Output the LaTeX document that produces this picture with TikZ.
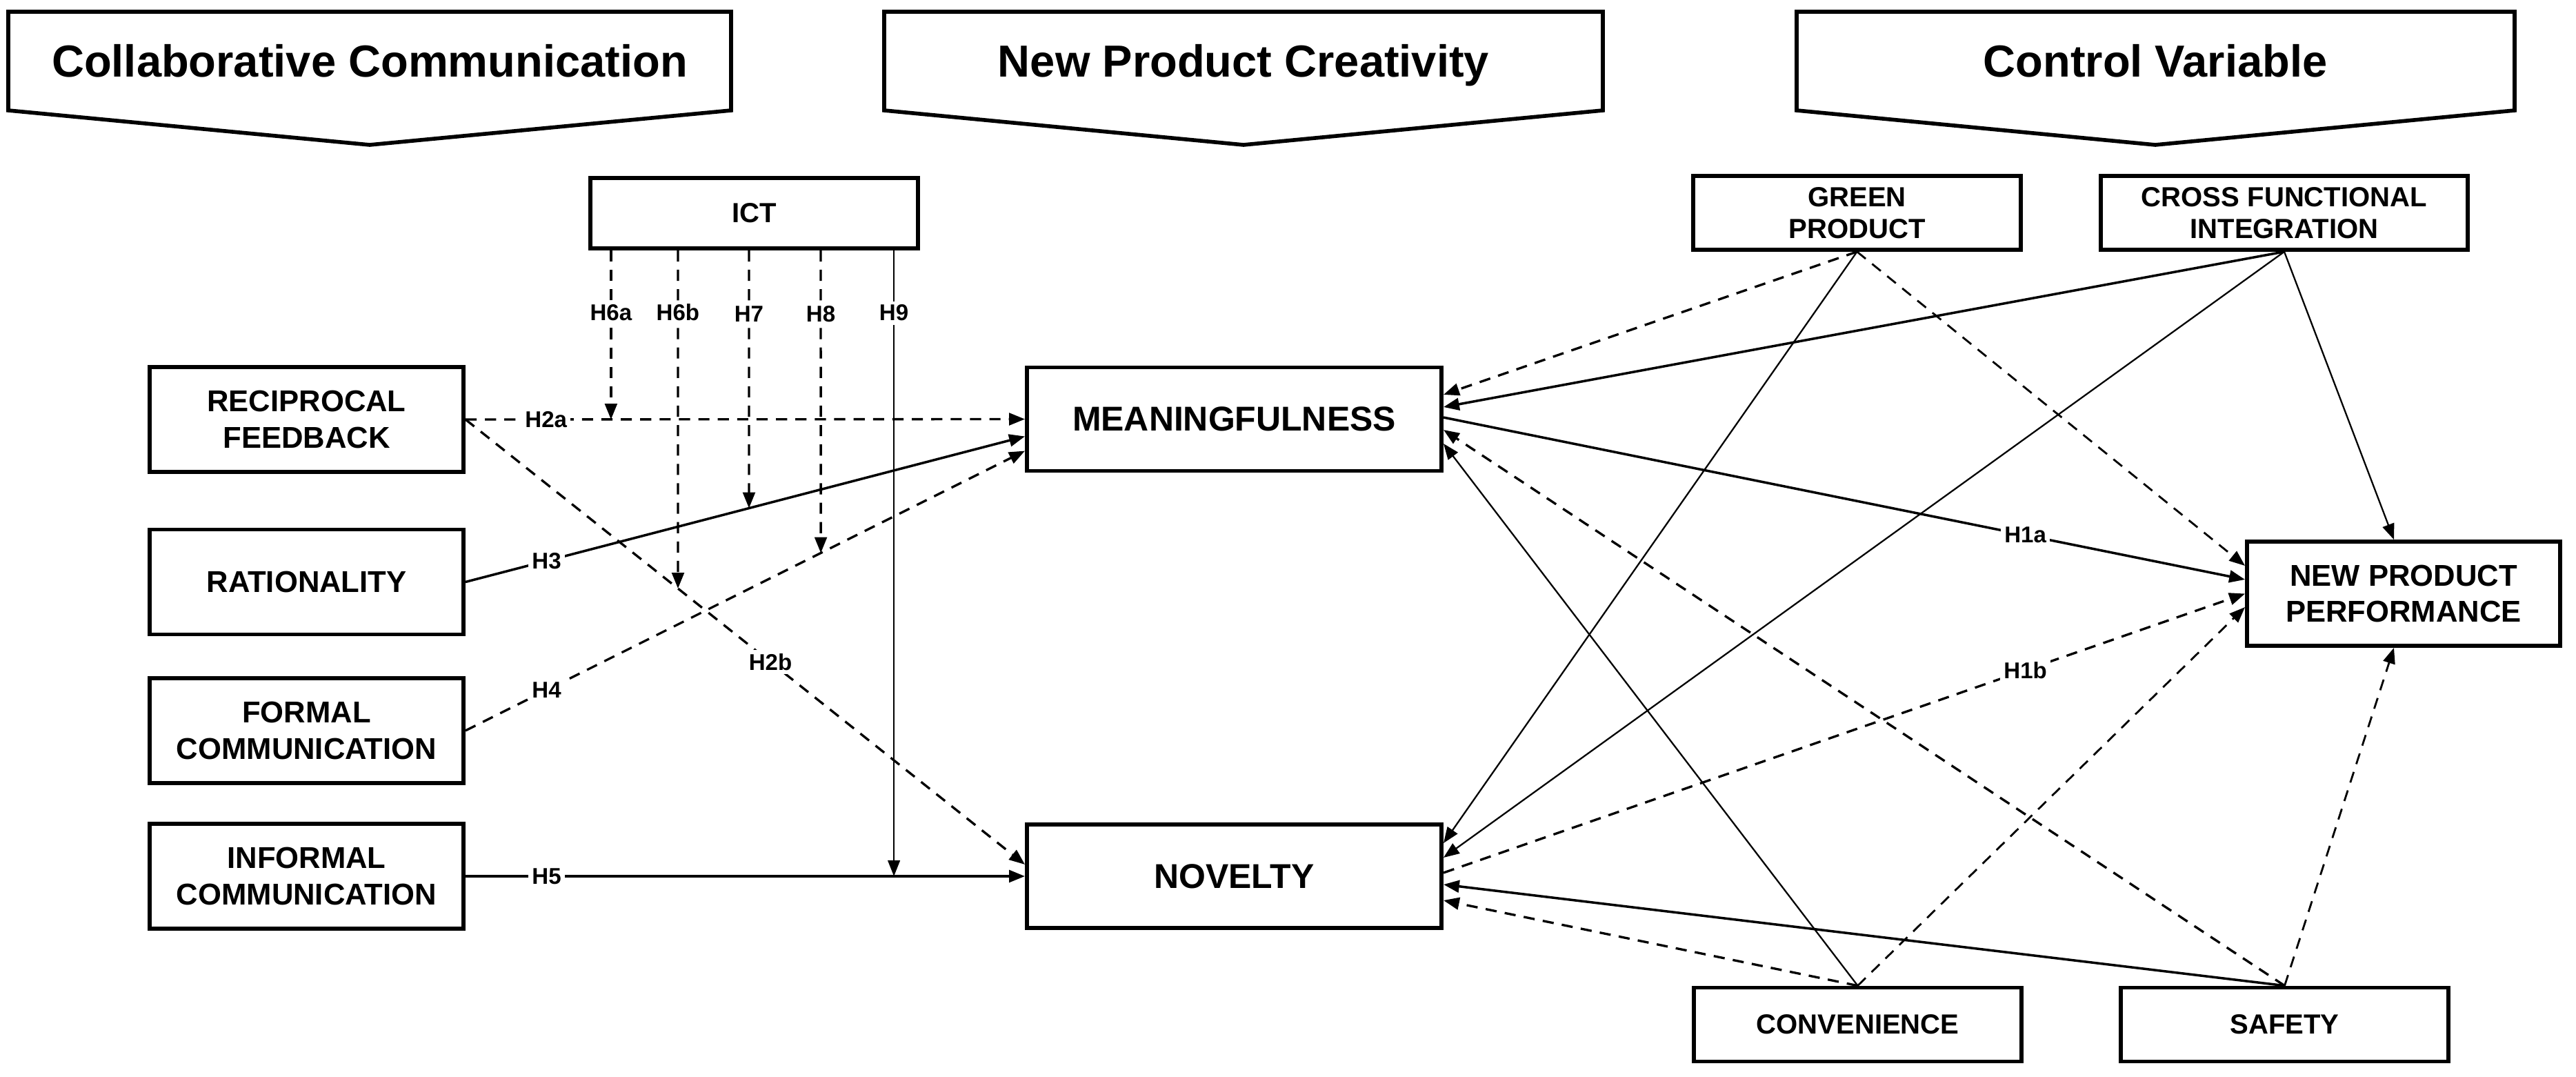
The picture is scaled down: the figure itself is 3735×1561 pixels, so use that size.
\documentclass[tikz,border=0pt]{standalone}
\usepackage{fontspec}
\setmainfont{Liberation Sans}
\usetikzlibrary{arrows.meta,calc}
\begin{document}
\begin{tikzpicture}[x=0.01cm,y=-0.01cm,
  boxbase/.style={draw,line width=1.6pt,fill=white,align=center,inner sep=0pt},
  lbox/.style={boxbase,minimum width=4.55cm,minimum height=1.52cm,font=\bfseries\fontsize{12.4}{14.8}\selectfont},
  cbox/.style={boxbase,minimum width=6.01cm,minimum height=1.50cm,font=\bfseries\fontsize{14.2}{17}\selectfont},
  sbox/.style={boxbase,minimum height=1.07cm,font=\bfseries\fontsize{11.4}{13.1}\selectfont},
  chev/.style={draw,line width=1.6pt,fill=white,line join=miter},
  head/.style={font=\bfseries\fontsize{18.5}{22}\selectfont,anchor=base,inner sep=0pt},
  arr/.style={-{Triangle[length=6.5pt,width=5pt]},line width=1pt},
  dsh/.style={dash pattern=on 4.6pt off 3.4pt,line width=0.95pt},
  thinl/.style={line width=0.65pt},
  lab/.style={fill=white,inner sep=1.5pt,font=\bfseries\fontsize{9.4}{11}\selectfont}
]
\useasboundingbox (0,0) rectangle (3735,1561);

% headers
\draw[chev] (12,17) -- (1060,17) -- (1060,160) -- (536,210) -- (12,160) -- cycle;
\node[head] (t1) at (536,112) {Collaborative Communication};
\draw[chev] (1282,17) -- (2324,17) -- (2324,160) -- (1803,210) -- (1282,160) -- cycle;
\node[head] (t2) at (1803,112) {New Product Creativity};
\draw[chev] (2605,17) -- (3646,17) -- (3646,160) -- (3125,210) -- (2605,160) -- cycle;
\node[head] (t3) at (3125,112) {Control Variable};

% boxes
\node[lbox] (rf) at (444.5,608) {RECIPROCAL\\FEEDBACK};
\node[lbox] (rat) at (444.5,843.5) {RATIONALITY};
\node[lbox] (formal) at (444.5,1059) {FORMAL\\COMMUNICATION};
\node[lbox] (informal) at (444.5,1270) {INFORMAL\\COMMUNICATION};
\node[sbox,minimum width=4.75cm,minimum height=1.02cm] (ict) at (1093.5,309) {ICT};
\node[cbox] (mean) at (1789.5,607.5) {MEANINGFULNESS};
\node[cbox] (nov) at (1789.5,1270) {NOVELTY};
\node[sbox,minimum width=4.75cm] (gp) at (2692.5,308.5) {GREEN\\PRODUCT};
\node[sbox,minimum width=5.32cm] (cfi) at (3312,308.5) {CROSS FUNCTIONAL\\INTEGRATION};
\node[lbox,minimum width=4.54cm,minimum height=1.51cm] (npp) at (3485,860.5) {NEW PRODUCT\\PERFORMANCE};
\node[sbox,minimum width=4.75cm] (conv) at (2693.5,1485) {CONVENIENCE};
\node[sbox,minimum width=4.75cm] (safety) at (3312.5,1485) {SAFETY};

% helper coordinates
\coordinate (h2bend) at ([yshift=0.17cm]nov.west);
\coordinate (h3end) at ([yshift=-0.25cm]mean.west);
\coordinate (h4end) at ([yshift=-0.46cm]mean.west);
\coordinate (i6a) at ([xshift=-2.075cm]ict.south);
\coordinate (i6b) at ([xshift=-1.105cm]ict.south);
\coordinate (i7) at ([xshift=-0.075cm]ict.south);
\coordinate (i8) at ([xshift=0.965cm]ict.south);
\coordinate (i9) at ([xshift=2.025cm]ict.south);
\coordinate (i6bb) at (i6b |- nov.south);
\coordinate (i7b) at (i7 |- nov.south);
\coordinate (i8b) at (i8 |- nov.south);

\coordinate (m1) at ([yshift=0.355cm]mean.east);
\coordinate (m2) at ([yshift=0.175cm]mean.east);
\coordinate (m3) at ([yshift=0.025cm]mean.east);
\coordinate (m4) at ([yshift=-0.155cm]mean.east);
\coordinate (m5) at ([yshift=-0.355cm]mean.east);
\coordinate (n1) at ([yshift=0.48cm]nov.east);
\coordinate (n2) at ([yshift=0.27cm]nov.east);
\coordinate (n3) at ([yshift=0.05cm]nov.east);
\coordinate (n4) at ([yshift=-0.12cm]nov.east);
\coordinate (n5) at ([yshift=-0.35cm]nov.east);
\coordinate (p1) at ([yshift=0.405cm]npp.west);
\coordinate (p2) at ([yshift=0.205cm]npp.west);
\coordinate (p3) at (npp.west);
\coordinate (p4) at ([yshift=-0.195cm]npp.west);
\coordinate (ptop) at ([xshift=-0.14cm]npp.north);
\coordinate (pbot) at ([xshift=-0.14cm]npp.south);

% left connectors
\draw[arr,dsh] (rf.east) -- node[lab,pos=0.144]{H2a} (mean.west);
\draw[arr,dsh] (rf.east) -- node[lab,pos=0.545]{H2b} (h2bend);
\draw[arr] (rat.east) -- node[lab,pos=0.145]{H3} (h3end);
\draw[arr,dsh] (formal.east) -- node[lab,pos=0.145]{H4} (h4end);
\draw[arr] (informal.east) -- node[lab,pos=0.145]{H5} (nov.west);

% ICT moderations
\draw[arr,dsh] (i6a) -- node[lab,pos=0.368]{H6a} (i6a |- rf.east);
\draw[arr,dsh] (i6b) -- node[lab,pos=0.184]{H6b} (intersection of i6b--i6bb and rf.east--h2bend);
\draw[arr,dsh] (i7) -- node[lab,pos=0.247]{H7} (intersection of i7--i7b and rat.east--h3end);
\draw[arr,dsh] (i8) -- node[lab,pos=0.21]{H8} (intersection of i8--i8b and formal.east--h4end);
\draw[arr,thinl] (i9) -- node[lab,pos=0.1]{H9} (i9 |- informal.east);

% right connectors
\draw[arr,dsh] (gp.south) -- (m1);
\draw[arr] (cfi.south) -- (m2);
\draw[arr] (m3) -- node[lab,pos=0.726]{H1a} (p2);
\draw[arr,dsh] (safety.north) -- (m4);
\draw[arr,thinl] (conv.north) -- (m5);
\draw[arr,thinl] (gp.south) -- (n1);
\draw[arr,thinl] (cfi.south) -- (n2);
\draw[arr,dsh] (n3) -- node[lab,pos=0.726]{H1b} (p3);
\draw[arr] (safety.north) -- (n4);
\draw[arr,dsh] (conv.north) -- (n5);
\draw[arr,dsh,line width=0.8pt] (gp.south) -- (p1);
\draw[arr,dsh,line width=0.8pt] (conv.north) -- (p4);
\draw[arr,thinl] (cfi.south) -- (ptop);
\draw[arr,dsh,line width=0.8pt] (safety.north) -- (pbot);
\end{tikzpicture}
\end{document}
